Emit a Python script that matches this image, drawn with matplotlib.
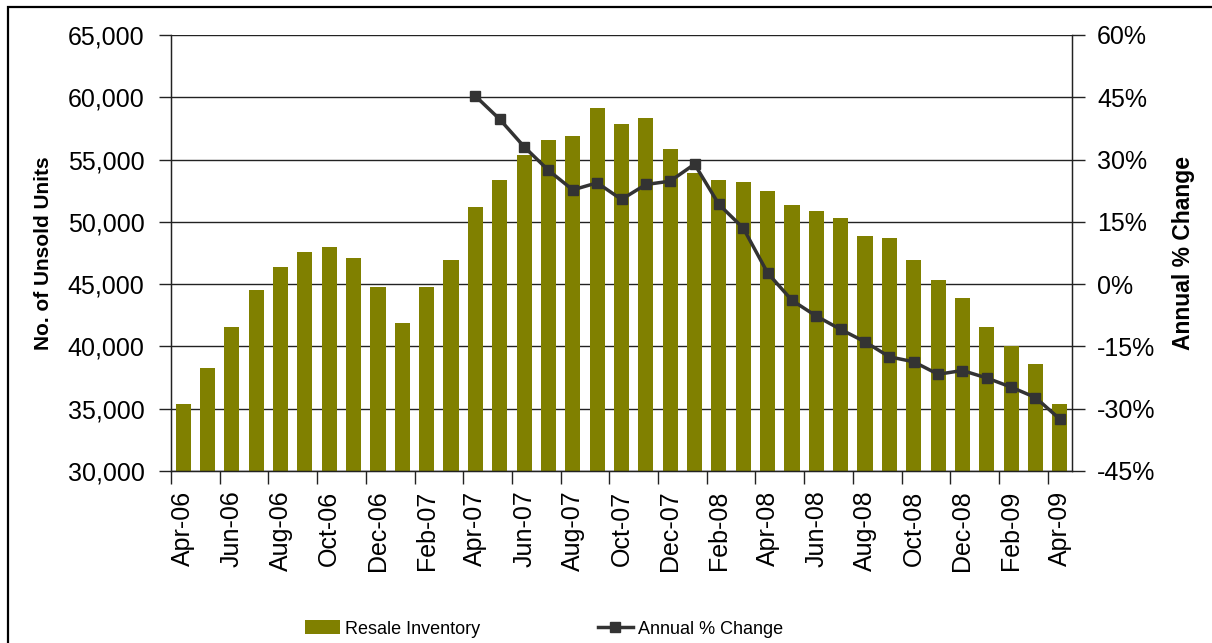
import numpy as np
import matplotlib
matplotlib.use("Agg")
import matplotlib.pyplot as plt
from matplotlib.patches import Rectangle, Patch
from matplotlib.lines import Line2D
from matplotlib.ticker import FuncFormatter, MultipleLocator

plt.rcParams['font.family'] = ['Liberation Sans', 'DejaVu Sans']

months = ["Apr-06", "May-06", "Jun-06", "Jul-06", "Aug-06", "Sep-06", "Oct-06", "Nov-06",
          "Dec-06", "Jan-07", "Feb-07", "Mar-07", "Apr-07", "May-07", "Jun-07", "Jul-07",
          "Aug-07", "Sep-07", "Oct-07", "Nov-07", "Dec-07", "Jan-08", "Feb-08", "Mar-08",
          "Apr-08", "May-08", "Jun-08", "Jul-08", "Aug-08", "Sep-08", "Oct-08", "Nov-08",
          "Dec-08", "Jan-09", "Feb-09", "Mar-09", "Apr-09"]

resale_inventory = [35400, 38300, 41550, 44550, 46400, 47600, 48000, 47100, 44800, 41900,
                    44800, 46950, 51200, 53400, 55400, 56600, 56900, 59150, 57850, 58350,
                    55850, 53900, 53400, 53200, 52500, 51350, 50850, 50300, 48850, 48700,
                    46950, 45350, 43900, 41550, 40050, 38600, 35400]

annual_pct_change = [np.nan] * 12 + [45.3, 39.7, 33.1, 27.4, 22.7, 24.4, 20.4, 24.0, 24.8,
                                     28.9, 19.2, 13.5, 2.7, -3.9, -7.7, -10.9, -13.9, -17.5,
                                     -18.7, -21.7, -20.8, -22.6, -24.8, -27.3, -32.5]

bar_color = "#808000"
line_color = "#333333"

W, H = 1212, 643
fig = plt.figure(figsize=(W / 100, H / 100), dpi=100, facecolor="white")
ax = fig.add_axes([171 / W, 1 - 471 / H, (1072 - 171) / W, (471 - 35) / H])

x = np.arange(len(months))
ax.bar(x, resale_inventory, width=0.62, color=bar_color, zorder=2)
ax.set_xlim(-0.5, len(months) - 0.5)
ax.set_ylim(30000, 65000)
ax.yaxis.set_major_locator(MultipleLocator(5000))
ax.yaxis.set_major_formatter(FuncFormatter(lambda v, p: f"{int(v):,}"))
ax.grid(axis="y", color="#222222", linewidth=1.0, zorder=0)
ax.set_axisbelow(True)

# x ticks: labels every 2 months at category centers, tick marks at boundaries
ax.set_xticks(x[::2])
ax.set_xticklabels(months[::2], rotation=90, fontsize=18)
ax.tick_params(axis="x", length=0, pad=14)
ax.set_xticks(np.arange(-0.5, len(months), 2), minor=True)
ax.tick_params(axis="x", which="minor", length=9, width=1, color="#222222")
ax.tick_params(axis="y", labelsize=18, length=9, width=1, color="#222222", pad=10)

ax.spines["top"].set_visible(False)
for s in ["left", "bottom", "right"]:
    ax.spines[s].set_color("#222222")
    ax.spines[s].set_linewidth(1.0)

ax.set_ylabel("No. of Unsold Units", fontsize=15, fontweight="bold")
ax.yaxis.set_label_coords(-(171 - 53) / (1072 - 171), 0.5)

ax2 = ax.twinx()
ax2.plot(x, annual_pct_change, color=line_color, linewidth=2.5, marker="s",
         markersize=6.5, zorder=3)
ax2.set_ylim(-45, 60)
ax2.yaxis.set_major_locator(MultipleLocator(15))
ax2.yaxis.set_major_formatter(FuncFormatter(lambda v, p: f"{int(round(v))}%"))
ax2.tick_params(axis="y", labelsize=18, length=9, width=1, color="#222222", pad=9)
ax2.spines["top"].set_visible(False)
for s in ["left", "bottom", "right"]:
    ax2.spines[s].set_color("#222222")
ax2.set_ylabel("Annual % Change", fontsize=16.5, fontweight="bold")
ax2.yaxis.set_label_coords(1 + (1172 - 1072) / (1072 - 171), 0.5)

# legend
handles = [Patch(facecolor=bar_color, edgecolor="none"),
           Line2D([], [], color=line_color, linewidth=2.5, marker="s", markersize=6.5)]
fig.legend(handles, ["Resale Inventory", "Annual % Change"], loc="center",
           bbox_to_anchor=(544 / W, 1 - 629 / H), ncol=2, frameon=False,
           prop={"size": 13},
           handlelength=1.94, handleheight=0.8, handletextpad=0.28, columnspacing=6.5)

# outer border
fig.add_artist(Rectangle((8 / W, -0.1), 1.2, 1 - 7 / H + 0.1, transform=fig.transFigure,
                         fill=False, edgecolor="black", linewidth=1.6, clip_on=False))

fig.savefig("out.png", dpi=100, facecolor="white")
